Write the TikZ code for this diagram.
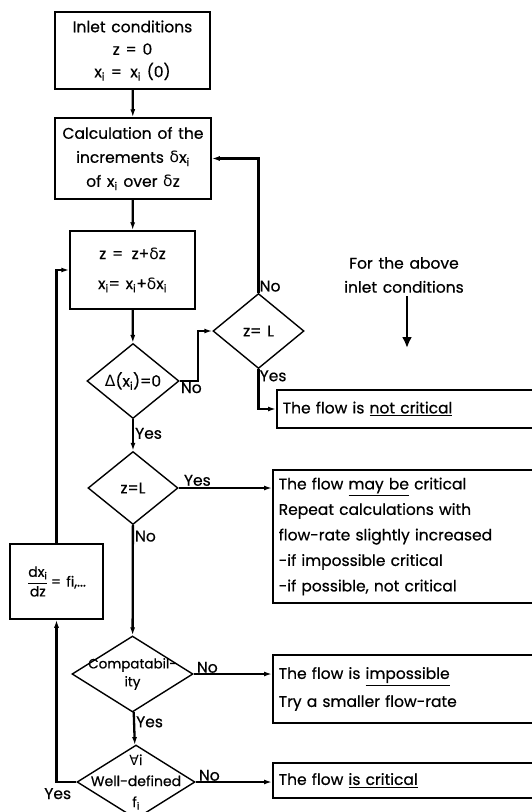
\documentclass[tikz,border=0pt]{standalone}
\usepackage{amsmath}
\usepackage{fontspec}
\setmainfont{Poppins}[FakeBold=0.6, WordSpace=1.4]
\newfontfamily\greekfont{DejaVu Sans}
\usepackage{tikz}
\usetikzlibrary{arrows.meta,shapes.geometric,positioning,calc}

\newcommand{\sdelta}{{\greekfont δ}}
\newcommand{\bDelta}{{\greekfont Δ}}
\newcommand{\allsym}{{\greekfont ∀}}
\newcommand{\sub}[1]{\textsubscript{#1}}

\begin{document}
\begin{tikzpicture}[
  x=1pt, y=-1pt,
  every node/.style={font=\fontsize{15.5}{24}\selectfont},
  box/.style={draw, line width=1.5pt, align=center, inner sep=0pt},
  rbox/.style={draw, line width=1.5pt, align=left, anchor=west,
               inner sep=6pt, text width=262pt},
  decide/.style={draw, diamond, line width=1.4pt, inner sep=0pt},
  flow/.style={line width=2.3pt, -{Latex[length=8pt,width=5pt]}},
  lbl/.style={inner sep=1pt},
]
\useasboundingbox (0,0) rectangle (532,812);
\clip (0,0) rectangle (532,812);

%% Main column
\node[box, minimum width=155pt, minimum height=77pt,
      font=\fontsize{15.5}{22.5}\selectfont] (inlet) at (132.5,50.5)
  {Inlet conditions\\ z = 0\\ x\sub{i} = \,x\sub{i} (0)};
\node[box, minimum width=156pt, minimum height=81pt] (calc) at (133,158.5)
  {Calculation of the\\ increments \sdelta x\sub{i}\\ of x\sub{i} over \sdelta z};
\node[box, minimum width=125pt, minimum height=78pt,
      font=\fontsize{15.5}{30}\selectfont] (update) at (132.5,270)
  {z = \,z+\sdelta z\\ x\sub{i}= x\sub{i}+\sdelta x\sub{i}};
\node[decide, minimum width=92pt, minimum height=75pt,
      label={center:\bDelta(x\sub{i})=0}] (delta) at (133,381) {};
\node[decide, minimum width=90pt, minimum height=73pt,
      label={center:z=L}] (zllow) at (133,488) {};
\node[decide, minimum width=121pt, minimum height=76pt,
      label={[align=center, font=\fontsize{13.5}{18}\selectfont]center:Compatabil-\\ity}]
  (compat) at (132.5,674) {};
\node[decide, minimum width=118pt, minimum height=74pt,
      label={[align=center, font=\fontsize{14}{21}\selectfont]center:\allsym i\\Well-defined\\f\sub{i}}]
  (welldef) at (136,782) {};

%% Side branch
\node[decide, minimum width=91pt, minimum height=75pt,
      label={center:z= L}] (zlup) at (258.5,331) {};
\node[box, minimum width=93pt, minimum height=75pt,
      font=\fontsize{14}{16}\selectfont] (deriv) at (56.5,581.5)
  {\(\dfrac{\text{dx\sub{i}}}{\text{dz}}\)\,= fi,...};

%% Results
\node[rbox, minimum height=38pt] (notcrit) at (276,409)
  {The flow is \underline{not critical}};
\node[rbox, minimum height=133pt, font=\fontsize{15.5}{25.5}\selectfont]
  (maybe) at (272,536.5)
  {The flow \underline{may be} critical\\ Repeat calculations with\\
   flow-rate slightly increased\\ -if impossible critical\\
   -if possible, not critical};
\node[rbox, minimum height=68pt, font=\fontsize{15.5}{28}\selectfont]
  (impos) at (272,689)
  {The flow is \underline{impossible}\\ Try a smaller flow-rate};
\node[rbox, minimum height=35pt] (crit) at (272,780.5)
  {The flow \underline{is critical}};

%% Note
\node[align=center] (note) at (404,275) {For the above\\ inlet conditions};
\coordinate (noteend) at (407,348);
\draw[line width=2.8pt, -{Latex[length=11pt,width=10pt]}]
  (note.south -| noteend) -- (noteend);

%% Connectors
\draw[flow] (inlet) -- (calc);
\draw[flow] (calc) -- (update);
\draw[flow] (update) -- (delta);
\draw[flow] (delta) -- node[lbl, right, pos=0.45] {Yes} (zllow);
\draw[flow] (zllow) -- node[lbl, right, pos=0.1] {No} (compat);
\draw[flow] (compat) -- node[lbl, right, pos=0.3] {Yes} (welldef);
\draw[flow] (delta.east) -- ++(18,0) |- (zlup.west);
\draw[flow] (zlup.north) |- (calc.east);
\draw[flow] (zlup.south) |- (notcrit.west);
\draw[flow] (zllow.east) -- node[lbl, above, pos=0.2] {Yes} (zllow.east -| maybe.west);
\draw[flow] (compat.east) -- (compat.east -| impos.west);
\draw[flow] (welldef.east) -- (welldef.east -| crit.west);
\draw[flow] (welldef.west) -| (deriv.south);
\draw[flow] (deriv.north) |- (update.west);

%% Branch labels
\node[lbl, anchor=north west] at (delta.east) {No};
\node[lbl, anchor=south west] at (zlup.north) {No};
\node[lbl, anchor=north west] at (zlup.south) {Yes};
\node[lbl, anchor=south west] at ([xshift=2pt]compat.east) {No};
\node[lbl, anchor=south west] at ([xshift=2pt]welldef.east) {No};
\node[lbl, anchor=north east] at ([xshift=-4pt,yshift=-5pt]welldef.west) {Yes};

\end{tikzpicture}
\end{document}
